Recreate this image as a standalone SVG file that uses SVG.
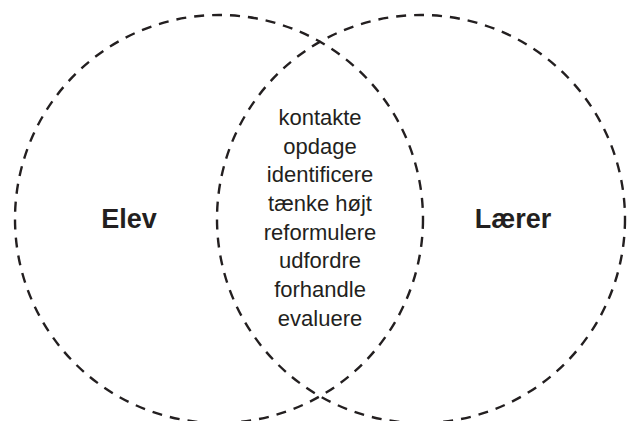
<svg xmlns="http://www.w3.org/2000/svg" width="627" height="421" viewBox="0 0 627 421">
<style>
.c{fill:none;stroke:#231f20;stroke-width:2.4;stroke-dasharray:10 8}
.t{font-family:"Liberation Sans",Arial,sans-serif;fill:#231f20;text-anchor:middle}
.m{font-size:22px}
.b{font-size:27px;font-weight:bold}
</style>
<rect width="627" height="421" fill="#fff"/>
<g id="connectors"></g>
<g id="elev">
<circle class="c" cx="219" cy="219" r="204"/>
<text class="t b" x="129" y="228">Elev</text>
</g>
<g id="laerer">
<circle class="c" cx="421" cy="219" r="204"/>
<text class="t b" x="513" y="228">Lærer</text>
</g>
<g id="faelles">
<text class="t m" x="320" y="125">kontakte</text>
<text class="t m" x="320" y="154">opdage</text>
<text class="t m" x="320" y="182">identificere</text>
<text class="t m" x="320" y="211">tænke højt</text>
<text class="t m" x="320" y="240">reformulere</text>
<text class="t m" x="320" y="268">udfordre</text>
<text class="t m" x="320" y="297">forhandle</text>
<text class="t m" x="320" y="326">evaluere</text>
</g>
</svg>
